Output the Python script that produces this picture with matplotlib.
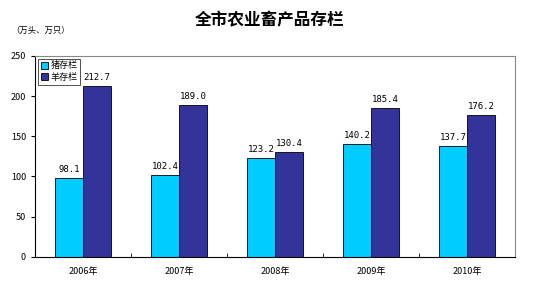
import numpy as np
import matplotlib.pyplot as plt

plt.rcParams['font.family'] = ['Noto Sans CJK SC', 'DejaVu Sans']

years = ['2006年', '2007年', '2008年', '2009年', '2010年']
pigs = [98.1, 102.4, 123.2, 140.2, 137.7]
sheep = [212.7, 189.0, 130.4, 185.4, 176.2]

fig = plt.figure(figsize=(5.4, 2.88), dpi=100)
ax = fig.add_axes([0.065, 0.108, 0.889, 0.698])

x = np.arange(len(years))
w = 0.29
b1 = ax.bar(x - w / 2, pigs, w, color='#00CCFF', edgecolor='black', linewidth=0.6, label='猪存栏')
b2 = ax.bar(x + w / 2, sheep, w, color='#333399', edgecolor='black', linewidth=0.6, label='羊存栏')

for bars in (b1, b2):
    for r in bars:
        ax.text(r.get_x() + r.get_width() / 2, r.get_height() + 5, '%.1f' % r.get_height(),
                ha='center', va='bottom', fontsize=6.5, family='DejaVu Sans Mono')

ax.set_xlim(-0.5, 4.5)
ax.set_ylim(0, 250)
ax.set_yticks([0, 50, 100, 150, 200, 250])
ax.set_xticks(x)
ax.set_xticklabels(years, fontsize=6.5)
ax.set_xticks(np.arange(0.5, 4.5, 1), minor=True)
ax.tick_params(axis='x', which='major', length=0, pad=7)
ax.tick_params(axis='x', which='minor', length=3, direction='in')
ax.tick_params(axis='y', labelsize=6.5, length=3, direction='out')
for s in ('top', 'right'):
    ax.spines[s].set_color('#888888')
    ax.spines[s].set_linewidth(0.8)
for s in ('left', 'bottom'):
    ax.spines[s].set_color('black')
    ax.spines[s].set_linewidth(0.8)

leg = ax.legend(loc='upper left', fontsize=6.5, frameon=True, fancybox=False,
                borderpad=0.3, handlelength=0.8, handleheight=0.8, handletextpad=0.3,
                labelspacing=0.3, borderaxespad=0.3)
leg.get_frame().set_edgecolor('black')
leg.get_frame().set_linewidth(0.6)

fig.text(0.5, 0.93, '全市农业畜产品存栏', ha='center', va='center', fontsize=12, fontweight='bold')
fig.text(0.02, 0.895, '（万头、万只）', ha='left', va='center', fontsize=6)

fig.savefig('out.png', dpi=100)
